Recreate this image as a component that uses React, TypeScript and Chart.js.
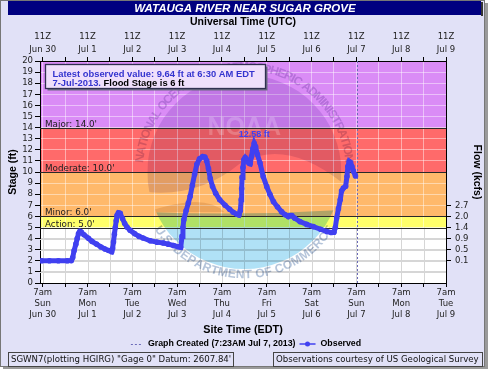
import React, { useEffect, useRef } from 'react';
import { Chart, registerables } from 'chart.js';

Chart.register(...registerables);

// ---------------- data ----------------
const TITLE = 'WATAUGA RIVER NEAR SUGAR GROVE';
const TOP_AXIS_TITLE = 'Universal Time (UTC)';
const BOTTOM_AXIS_TITLE = 'Site Time (EDT)';
const LEFT_AXIS_TITLE = 'Stage (ft)';
const RIGHT_AXIS_TITLE = 'Flow (kcfs)';

const DAY_DATES = ['Jun 30', 'Jul 1', 'Jul 2', 'Jul 3', 'Jul 4', 'Jul 5', 'Jul 6', 'Jul 7', 'Jul 8', 'Jul 9'];
const WEEKDAYS = ['Sun', 'Mon', 'Tue', 'Wed', 'Thu', 'Fri', 'Sat', 'Sun', 'Mon', 'Tue'];
const UTC_HOUR = '11Z';
const LOCAL_HOUR = '7am';

// x values are days since 7am EDT Jun 30
const X_MIN = -0.06;
const X_MAX = 9.0;
const Y_MIN = 0;
const Y_MAX = 20;

const OBS_DAYS = [
  -0.03, 0.15, 0.35, 0.55, 0.64, 0.67, 0.7, 0.74, 0.77, 0.8, 0.83, 0.86, 0.92, 1.02, 1.1, 1.2, 1.3, 1.39, 1.47, 1.54,
  1.56, 1.58, 1.6, 1.62, 1.64, 1.66, 1.69, 1.73, 1.78, 1.83, 1.88, 1.95, 2.05, 2.15, 2.24, 2.4, 2.55, 2.69, 2.8, 2.92, 3.02, 3.08,
  3.11, 3.13, 3.15, 3.2, 3.25, 3.29, 3.34, 3.39, 3.44, 3.5, 3.57, 3.62, 3.66, 3.7, 3.74, 3.79, 3.86, 3.95, 4.07, 4.17, 4.25, 4.33, 4.38,
  4.41, 4.43, 4.44, 4.45, 4.47, 4.49, 4.52, 4.56, 4.6, 4.63, 4.66, 4.69, 4.72, 4.75, 4.79, 4.85, 4.92, 5.0, 5.07, 5.15, 5.24, 5.33,
  5.41, 5.48, 5.52, 5.56, 5.62, 5.74, 5.89, 6.04, 6.2, 6.34, 6.44, 6.5,
  6.53, 6.56, 6.6, 6.64, 6.67, 6.71, 6.76, 6.79, 6.81, 6.84, 6.87, 6.9, 6.93, 6.98,
];
const OBS_STAGE = [
  2.0, 2.0, 2.0, 2.0, 2.02, 2.3, 2.9, 3.5, 4.0, 4.45, 4.65, 4.6, 4.35, 4.03, 3.75, 3.51, 3.25, 3.06, 2.93, 2.82,
  3.1, 3.7, 4.4, 5.0, 5.6, 6.1, 6.33, 6.28, 5.8, 5.35, 5.05, 4.75, 4.45, 4.2, 4.05, 3.8, 3.68, 3.6, 3.5, 3.38, 3.27, 3.22,
  4.2, 5.0, 5.7, 6.5, 7.2, 7.8, 8.8, 9.8, 10.7, 11.2, 11.4, 11.35, 11.0, 10.3, 9.4, 8.7, 8.08, 7.5, 7.0, 6.65, 6.37, 6.2, 6.13,
  6.5, 7.5, 8.5, 9.5, 10.4, 11.1, 11.3, 11.1, 10.8, 10.75, 11.4, 12.1, 12.58, 12.3, 11.6, 10.8, 9.6, 8.68, 8.0, 7.33, 6.85, 6.43,
  6.15, 5.98, 6.07, 6.07, 5.85, 5.53, 5.28, 5.08, 4.84, 4.63, 4.55, 4.58,
  5.0, 5.85, 6.7, 7.5, 8.3, 8.55, 8.7, 9.6, 10.5, 10.95, 10.85, 10.5, 10.1, 9.64,
];

const GRAPH_CREATED_DAY = 7 + 23 / 1440; // 7:23AM Jul 7
const FLOW_STAGE = [2, 3, 4, 5, 6, 7];
const FLOW_KCFS = ['0.1', '0.5', '0.9', '1.4', '2.0', '2.7'];

const CATEGORY_NAMES = ['Action', 'Minor', 'Moderate', 'Major'];
const CATEGORY_STAGES = [5, 6, 10, 14];

const LATEST_LINE1 = 'Latest observed value: 9.64 ft at 6:30 AM EDT';
const LATEST_LINE2A = '7-Jul-2013.';
const LATEST_LINE2B = ' Flood Stage is 6 ft';
const LEGEND_CREATED = 'Graph Created (7:23AM Jul 7, 2013)';
const LEGEND_OBSERVED = 'Observed';
const FOOTER_LEFT = 'SGWN7(plotting HGIRG) "Gage 0" Datum: 2607.84\'';
const FOOTER_RIGHT = 'Observations courtesy of US Geological Survey';

// ---------------- styles ----------------
const W = 490;
const H = 370;
const PAGE_BG = '#e1e1f7';
const BAND_COLORS = ['#ffffff', '#ffff6a', '#ffb96b', '#ff6a6a', '#da8cf6'];
const OBS_COLOR = '#4040f0';
const CREATED_COLOR = '#6a6ab8';
const SANS = '"Liberation Sans", Arial, sans-serif';
const VERD = '"DejaVu Sans", Verdana, sans-serif';

const HALF_TICKS: number[] = [];
for (let i = 0; i <= 18; i++) HALF_TICKS.push(i / 2);

const isWhole = (v: number) => Math.abs(v - Math.round(v)) < 1e-6;

function textOnArc(ctx: CanvasRenderingContext2D, text: string, cx: number, cy: number, r: number, a0: number, a1: number, bottom: boolean) {
  const widths = [...text].map((c) => ctx.measureText(c).width);
  const total = widths.reduce((s, w) => s + w, 0);
  const span = a1 - a0;
  let acc = 0;
  [...text].forEach((ch, i) => {
    const mid = acc + widths[i] / 2;
    acc += widths[i];
    const a = a0 + (span * mid) / total;
    ctx.save();
    ctx.translate(cx + r * Math.cos(a), cy + r * Math.sin(a));
    ctx.rotate(bottom ? a - Math.PI / 2 : a + Math.PI / 2);
    ctx.fillText(ch, 0, 0);
    ctx.restore();
  });
}

const hydroPlugin = {
  id: 'hydro',
  beforeDraw(chart: any) {
    const { ctx, chartArea: a, scales } = chart;
    const y = scales.y;
    ctx.save();
    ctx.fillStyle = '#ffffff';
    ctx.fillRect(0, 0, W, H);
    ctx.fillStyle = '#9a9a9a';
    ctx.fillRect(3, 3, 485, 366);
    ctx.fillStyle = PAGE_BG;
    ctx.fillRect(0, 0, 485, 367);
    ctx.strokeStyle = '#777';
    ctx.lineWidth = 1;
    ctx.strokeRect(0.5, 0.5, 484, 366);
    // title bar
    ctx.fillStyle = '#000080';
    ctx.fillRect(8, 1, 473, 14);
    ctx.fillStyle = '#333';
    ctx.fillRect(481, 2, 2, 14);
    ctx.fillStyle = '#ffffff';
    ctx.font = `italic bold 11.5px ${SANS}`;
    ctx.textAlign = 'center';
    ctx.textBaseline = 'middle';
    ctx.fillText(TITLE, 245, 8.5);
    // bands
    const edges = [Y_MIN, ...CATEGORY_STAGES, Y_MAX];
    for (let i = 0; i < edges.length - 1; i++) {
      const top = y.getPixelForValue(edges[i + 1]);
      const bot = y.getPixelForValue(edges[i]);
      ctx.fillStyle = BAND_COLORS[i];
      ctx.fillRect(a.left, top, a.right - a.left, bot - top);
    }
    ctx.restore();
  },
  beforeDatasetsDraw(chart: any) {
    const { ctx, chartArea: a, scales } = chart;
    const x = scales.x;
    const y = scales.y;
    ctx.save();
    ctx.beginPath();
    ctx.rect(a.left, a.top, a.right - a.left, a.bottom - a.top);
    ctx.clip();
    // grey grid in the white zone
    ctx.strokeStyle = '#d6d6d6';
    ctx.lineWidth = 1;
    const yTop = y.getPixelForValue(CATEGORY_STAGES[0]);
    HALF_TICKS.forEach((v) => {
      const px = Math.round(x.getPixelForValue(v)) + 0.5;
      ctx.beginPath();
      ctx.moveTo(px, yTop);
      ctx.lineTo(px, a.bottom);
      ctx.stroke();
    });
    for (let s = 1; s < CATEGORY_STAGES[0]; s++) {
      const py = Math.round(y.getPixelForValue(s)) + 0.5;
      ctx.beginPath();
      ctx.moveTo(a.left, py);
      ctx.lineTo(a.right, py);
      ctx.stroke();
    }

    // NOAA watermark
    const cx = x.getPixelForValue(4.5);
    const cy = y.getPixelForValue(10);
    const R = 97;
    ctx.globalCompositeOperation = 'multiply';
    ctx.save();
    ctx.beginPath();
    ctx.arc(cx, cy, R, 0, Math.PI * 2);
    ctx.clip();
    ctx.fillStyle = 'rgb(226,216,238)';
    ctx.beginPath();
    ctx.moveTo(cx - R, cy - R);
    ctx.lineTo(cx + R, cy - R);
    ctx.lineTo(cx + R, cy + 10);
    ctx.quadraticCurveTo(cx + 40, cy - 35, cx - 5, cy - 8);
    ctx.quadraticCurveTo(cx - 45, cy + 25, cx - R, cy + 20);
    ctx.closePath();
    ctx.fill();
    ctx.fillStyle = 'rgb(176,225,246)';
    ctx.beginPath();
    ctx.moveTo(cx - R, cy + R);
    ctx.lineTo(cx + R, cy + R);
    ctx.lineTo(cx + R, cy + 38);
    ctx.quadraticCurveTo(cx, cy + 44, cx - R, cy + 40);
    ctx.closePath();
    ctx.fill();
    ctx.fillStyle = 'rgb(236,226,214)';
    ctx.beginPath();
    ctx.moveTo(cx - R, cy + 40);
    ctx.quadraticCurveTo(cx - 40, cy + 20, cx - 20, cy + 40);
    ctx.closePath();
    ctx.fill();
    ctx.restore();
    ctx.font = `bold 12px ${SANS}`;
    ctx.textAlign = 'center';
    ctx.textBaseline = 'middle';
    ctx.fillStyle = 'rgb(212,202,226)';
    textOnArc(ctx, 'NATIONAL OCEANIC AND ATMOSPHERIC ADMINISTRATION', cx, cy, R + 8, Math.PI * 1.03, Math.PI * 1.97, false);
    ctx.fillStyle = 'rgb(180,196,218)';
    textOnArc(ctx, 'U.S. DEPARTMENT OF COMMERCE', cx, cy, R + 6, Math.PI * 0.82, Math.PI * 0.18, true);
    ctx.globalCompositeOperation = 'source-over';
    ctx.fillStyle = 'rgba(255,255,255,0.2)';
    ctx.font = `bold 25px ${SANS}`;
    ctx.fillText('NOAA', cx, cy - 44);

    // category lines + labels
    ctx.strokeStyle = '#2a2a2a';
    ctx.fillStyle = '#222';
    ctx.font = `8.8px ${VERD}`;
    ctx.textAlign = 'left';
    ctx.textBaseline = 'alphabetic';
    CATEGORY_STAGES.forEach((s, i) => {
      const py = Math.round(y.getPixelForValue(s)) + 0.5;
      ctx.beginPath();
      ctx.moveTo(a.left, py);
      ctx.lineTo(a.right, py);
      ctx.stroke();
      ctx.fillText(`${CATEGORY_NAMES[i]}: ${s.toFixed(1)}'`, a.left + 5, py - 2);
    });

    // graph-created marker line
    const gx = Math.round(x.getPixelForValue(GRAPH_CREATED_DAY)) + 0.5;
    ctx.strokeStyle = CREATED_COLOR;
    ctx.lineWidth = 1;
    ctx.setLineDash([2, 2]);
    ctx.beginPath();
    ctx.moveTo(gx, y.getPixelForValue(Y_MAX));
    ctx.lineTo(gx, y.getPixelForValue(Y_MIN));
    ctx.stroke();
    ctx.setLineDash([]);
    ctx.restore();
  },
  afterDatasetsDraw(chart: any) {
    const { ctx, chartArea: a, scales } = chart;
    const x = scales.x;
    const y = scales.y;
    ctx.save();
    // peak label
    let pi = 0;
    OBS_STAGE.forEach((v, i) => { if (v > OBS_STAGE[pi]) pi = i; });
    ctx.fillStyle = OBS_COLOR;
    ctx.font = `bold 9px ${SANS}`;
    ctx.textAlign = 'center';
    ctx.textBaseline = 'alphabetic';
    ctx.fillText(`${OBS_STAGE[pi].toFixed(2)} ft`, x.getPixelForValue(OBS_DAYS[pi]), y.getPixelForValue(OBS_STAGE[pi]) - 6);

    // latest value box
    const bx = a.left + 5.5;
    const by = a.top + 3.5;
    const bw = 220;
    const bh = 24;
    ctx.fillStyle = '#6a6a80';
    ctx.fillRect(bx + 2, by + 2, bw, bh);
    ctx.fillStyle = '#efdffb';
    ctx.fillRect(bx, by, bw, bh);
    ctx.strokeStyle = '#303050';
    ctx.lineWidth = 1.3;
    ctx.strokeRect(bx, by, bw, bh);
    ctx.font = `bold 9.4px ${SANS}`;
    ctx.textAlign = 'left';
    ctx.textBaseline = 'middle';
    ctx.fillStyle = '#3434cf';
    ctx.fillText(LATEST_LINE1, bx + 7, by + 10);
    ctx.fillText(LATEST_LINE2A, bx + 7, by + 19);
    const w2 = ctx.measureText(LATEST_LINE2A).width;
    ctx.fillStyle = '#000';
    ctx.fillText(LATEST_LINE2B, bx + 7 + w2, by + 19);
    ctx.restore();
  },
  afterDraw(chart: any) {
    const { ctx } = chart;
    ctx.save();
    // legend
    const ly = 344;
    ctx.font = `bold 8.8px ${SANS}`;
    ctx.textBaseline = 'middle';
    ctx.textAlign = 'left';
    const wCreated = ctx.measureText(LEGEND_CREATED).width;
    const wObs = ctx.measureText(LEGEND_OBSERVED).width;
    const total = 12 + 5 + wCreated + 4 + 16 + 5 + wObs;
    let lx = 246 - total / 2;
    ctx.strokeStyle = CREATED_COLOR;
    ctx.lineWidth = 1;
    ctx.setLineDash([2, 2]);
    ctx.beginPath();
    ctx.moveTo(lx, ly + 0.5);
    ctx.lineTo(lx + 12, ly + 0.5);
    ctx.stroke();
    ctx.setLineDash([]);
    lx += 17;
    ctx.fillStyle = '#000';
    ctx.fillText(LEGEND_CREATED, lx, ly);
    lx += wCreated + 4;
    ctx.strokeStyle = OBS_COLOR;
    ctx.lineWidth = 1.5;
    ctx.beginPath();
    ctx.moveTo(lx, ly);
    ctx.lineTo(lx + 16, ly);
    ctx.stroke();
    ctx.fillStyle = OBS_COLOR;
    ctx.beginPath();
    ctx.arc(lx + 8, ly, 2.5, 0, Math.PI * 2);
    ctx.fill();
    lx += 21;
    ctx.fillStyle = '#000';
    ctx.fillText(LEGEND_OBSERVED, lx, ly);

    // footer boxes
    ctx.strokeStyle = '#444';
    ctx.lineWidth = 1;
    ctx.strokeRect(8.5, 352.5, 225, 14);
    ctx.strokeRect(273.5, 352.5, 209, 14);
    ctx.font = `8.6px ${VERD}`;
    ctx.fillStyle = '#111';
    ctx.fillText(FOOTER_LEFT, 11, 360);
    ctx.fillText(FOOTER_RIGHT, 276, 360);
    ctx.restore();
  },
};

export default function App() {
  const ref = useRef<HTMLCanvasElement>(null);
  useEffect(() => {
    if (!ref.current) return;
    const tickFont = { family: VERD, size: 8.5 };
    const chart = new Chart(ref.current, {
      type: 'line',
      data: {
        datasets: [
          {
            label: LEGEND_OBSERVED,
            data: OBS_DAYS.map((d, i) => ({ x: d, y: OBS_STAGE[i] })),
            borderColor: OBS_COLOR,
            backgroundColor: OBS_COLOR,
            borderWidth: 5,
            pointRadius: 2.8,
            pointBorderWidth: 0,
            pointBackgroundColor: OBS_COLOR,
            tension: 0,
            xAxisID: 'x',
            yAxisID: 'y',
          },
        ],
      },
      options: {
        responsive: false,
        animation: false,
        devicePixelRatio: 1,
        layout: { padding: 0 },
        plugins: { legend: { display: false }, title: { display: false }, tooltip: { enabled: false } },
        scales: {
          x: {
            type: 'linear',
            position: 'bottom',
            min: X_MIN,
            max: X_MAX,
            afterBuildTicks: (s: any) => { s.ticks = HALF_TICKS.map((v) => ({ value: v })); },
            afterFit: (s: any) => { s.height = 87; },
            ticks: {
              autoSkip: false,
              maxRotation: 0,
              padding: 0,
              color: '#222',
              font: { ...tickFont, lineHeight: 1.3 },
              callback: (v: any) => (isWhole(v) ? [LOCAL_HOUR, WEEKDAYS[Math.round(v)], DAY_DATES[Math.round(v)]] : ''),
            },
            grid: { color: 'rgba(255,255,255,0.45)', tickColor: '#000', tickLength: 4 },
            border: { color: '#000' },
            title: { display: true, text: BOTTOM_AXIS_TITLE, color: '#000', font: { family: SANS, size: 10.8, weight: 'bold' }, padding: { top: 0, bottom: 33.5 } },
          },
          x2: {
            type: 'linear',
            position: 'top',
            min: X_MIN,
            max: X_MAX,
            afterBuildTicks: (s: any) => { s.ticks = HALF_TICKS.map((v) => ({ value: v })); },
            afterFit: (s: any) => { s.height = 61; },
            ticks: {
              autoSkip: false,
              maxRotation: 0,
              padding: 1,
              color: '#222',
              font: { ...tickFont, lineHeight: 1.5 },
              callback: (v: any) => (isWhole(v) ? [UTC_HOUR, DAY_DATES[Math.round(v)]] : ''),
            },
            grid: { drawOnChartArea: false, tickColor: '#000', tickLength: 4 },
            border: { color: '#000' },
            title: { display: true, text: TOP_AXIS_TITLE, color: '#000', font: { family: SANS, size: 10.5, weight: 'bold' }, padding: { top: 16, bottom: 0 } },
          },
          y: {
            type: 'linear',
            position: 'left',
            min: Y_MIN,
            max: Y_MAX,
            afterFit: (s: any) => { s.width = 40; },
            ticks: { stepSize: 1, autoSkip: false, padding: 2, color: '#222', font: tickFont },
            grid: {
              color: (c: any) => (c.tick && c.tick.value < CATEGORY_STAGES[0] ? '#d6d6d6' : 'rgba(255,255,255,0.45)'),
              tickColor: '#000',
              tickLength: 5,
            },
            border: { color: '#000' },
            title: { display: true, text: LEFT_AXIS_TITLE, color: '#000', font: { family: SANS, size: 10.5, weight: 'bold' }, padding: { top: 7.2, bottom: 0 } },
          },
          y2: {
            type: 'linear',
            position: 'right',
            min: Y_MIN,
            max: Y_MAX,
            afterBuildTicks: (s: any) => { s.ticks = FLOW_STAGE.map((v) => ({ value: v })); },
            afterFit: (s: any) => { s.width = 44; },
            ticks: {
              autoSkip: false,
              padding: 4,
              color: '#222',
              font: tickFont,
              callback: (v: any) => {
                const i = FLOW_STAGE.indexOf(Math.round(v));
                return i >= 0 ? FLOW_KCFS[i] : '';
              },
            },
            grid: { drawOnChartArea: false, tickColor: '#000', tickLength: 5 },
            border: { color: '#000' },
            title: { display: true, text: RIGHT_AXIS_TITLE, color: '#000', font: { family: SANS, size: 10.5, weight: 'bold' }, padding: { top: 7.2, bottom: 0 } },
          },
        },
      } as any,
      plugins: [hydroPlugin],
    });
    return () => chart.destroy();
  }, []);
  return (
    <div style={{ position: 'fixed', left: 0, top: 0, width: W, height: H }}>
      <canvas ref={ref} width={W} height={H} style={{ display: 'block', width: W, height: H }} />
    </div>
  );
}
